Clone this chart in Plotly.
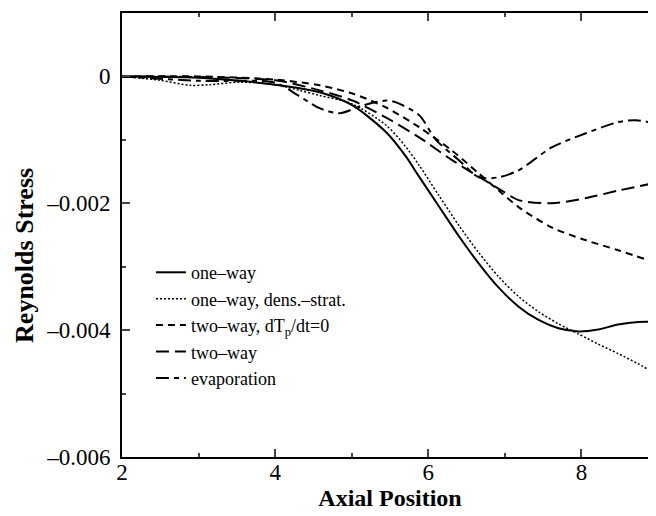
import plotly.graph_objects as go

# ---- data (y = Reynolds stress) ----
x_one_way = [2.0, 3.0, 4.0, 4.58, 5.0, 5.45, 5.7, 5.88, 6.14, 6.4, 6.66, 6.92, 7.18, 7.44, 7.7, 7.96, 8.22, 8.48, 8.74, 9.0]
y_one_way = [0.0, -0.00002, -0.00013, -0.00025, -0.00045, -0.00088, -0.00125, -0.00158, -0.00205, -0.00252, -0.00295, -0.00333, -0.00363, -0.00384, -0.00397, -0.00402, -0.00399, -0.00391, -0.00387, -0.00387]

x_dens = [2.0, 2.49, 2.89, 3.15, 3.54, 4.0, 4.32, 4.58, 5.0, 5.45, 5.7, 5.88, 6.14, 6.4, 6.66, 6.92, 7.18, 7.44, 7.7, 7.96, 8.22, 8.48, 8.74, 9.0]
y_dens = [0.0, -0.00006, -0.00014, -0.00013, -0.00009, -0.00013, -0.00022, -0.00030, -0.00043, -0.00077, -0.00110, -0.00140, -0.00188, -0.00235, -0.00278, -0.00316, -0.00347, -0.00371, -0.00390, -0.00406, -0.00422, -0.00437, -0.00453, -0.00471]

x_two_way_dT0 = [2.0, 3.0, 4.0, 4.58, 5.01, 5.45, 5.88, 6.31, 6.66, 6.96, 7.18, 7.61, 8.05, 8.48, 9.0]
y_two_way_dT0 = [0.0, 0.0, -0.00005, -0.00014, -0.00027, -0.00049, -0.00080, -0.00117, -0.00153, -0.00184, -0.00206, -0.00238, -0.00258, -0.00274, -0.00295]

x_two_way = [2.0, 3.0, 4.0, 4.58, 5.01, 5.45, 5.88, 6.31, 6.66, 6.96, 7.18, 7.61, 8.05, 8.48, 9.0]
y_two_way = [0.0, -0.00001, -0.00006, -0.00022, -0.00038, -0.00065, -0.00096, -0.00132, -0.00158, -0.00180, -0.00195, -0.00200, -0.00192, -0.00180, -0.00167]

x_evap = [2.0, 3.02, 4.0, 4.3, 4.58, 4.84, 5.14, 5.45, 5.58, 5.88, 6.1, 6.4, 6.66, 6.92, 7.18, 7.61, 8.05, 8.48, 8.71, 9.0]
y_evap = [0.0, -0.00007, -0.00010, -0.00030, -0.00050, -0.00058, -0.00046, -0.00038, -0.00041, -0.00061, -0.00100, -0.00132, -0.00159, -0.00159, -0.00148, -0.00112, -0.00090, -0.00072, -0.00069, -0.00075]

series_names = ["one\u2013way", "one\u2013way, dens.\u2013strat.", "two\u2013way, dT<sub>p</sub>/dt=0", "two\u2013way", "evaporation"]

x_tickvals = [2, 4, 6, 8]
y_tickvals = [0, -0.002, -0.004, -0.006]
y_ticktext = ["0", "\u20130.002", "\u20130.004", "\u20130.006"]

x_title = "Axial Position"
y_title = "Reynolds Stress"

# ---- styles ----
styles = [
    dict(color="black", width=2, dash="solid"),
    dict(color="black", width=1.5, dash="2px,2px"),
    dict(color="black", width=2, dash="7px,5px"),
    dict(color="black", width=2, dash="13px,6px"),
    dict(color="black", width=2, dash="13px,5px,5px,5px"),
]

xs = [x_one_way, x_dens, x_two_way_dT0, x_two_way, x_evap]
ys = [y_one_way, y_dens, y_two_way_dT0, y_two_way, y_evap]

fig = go.Figure()
for name, xv, yv, st in zip(series_names, xs, ys, styles):
    fig.add_trace(go.Scatter(x=xv, y=yv, name=name, mode="lines",
                             line=dict(shape="spline", smoothing=0.8, **st)))

font_family = "Liberation Serif, Times New Roman, serif"

fig.update_layout(
    width=652, height=508,
    margin=dict(l=114, r=0, t=5, b=59),
    paper_bgcolor="white", plot_bgcolor="white",
    font=dict(family=font_family, color="black", size=23),
    showlegend=True,
    legend=dict(x=0.054, y=0.457, xanchor="left", yanchor="top",
                bgcolor="rgba(0,0,0,0)", font=dict(size=18, family=font_family),
                tracegroupgap=0),
    xaxis=dict(range=[2, 9], tickvals=x_tickvals, ticks="inside", ticklen=8, tickwidth=1.5,
               showline=True, linewidth=2, linecolor="black", mirror="allticks",
               showgrid=False, zeroline=False, ticklabelstandoff=-7,
               minor=dict(dtick=1, tick0=2, ticks="inside", ticklen=4, tickwidth=1.5, showgrid=False),
               tickfont=dict(size=23),
               title=dict(text="<b>" + x_title + "</b>", font=dict(size=24), standoff=6)),
    yaxis=dict(range=[-0.006, 0.001], tickvals=y_tickvals, ticktext=y_ticktext,
               ticks="inside", ticklen=8, tickwidth=1.5,
               showline=True, linewidth=2, linecolor="black", mirror="allticks",
               showgrid=False, zeroline=False, ticklabelstandoff=5,
               minor=dict(dtick=0.001, tick0=0, ticks="inside", ticklen=4, tickwidth=1.5, showgrid=False),
               tickfont=dict(size=23)),
    annotations=[dict(text="<b>" + y_title + "</b>", textangle=-90, xref="paper", yref="paper",
                      x=-114 / 538, y=0.455, xanchor="left", yanchor="middle", showarrow=False,
                      font=dict(size=26, family=font_family))],
)

fig.write_html("out.html")
